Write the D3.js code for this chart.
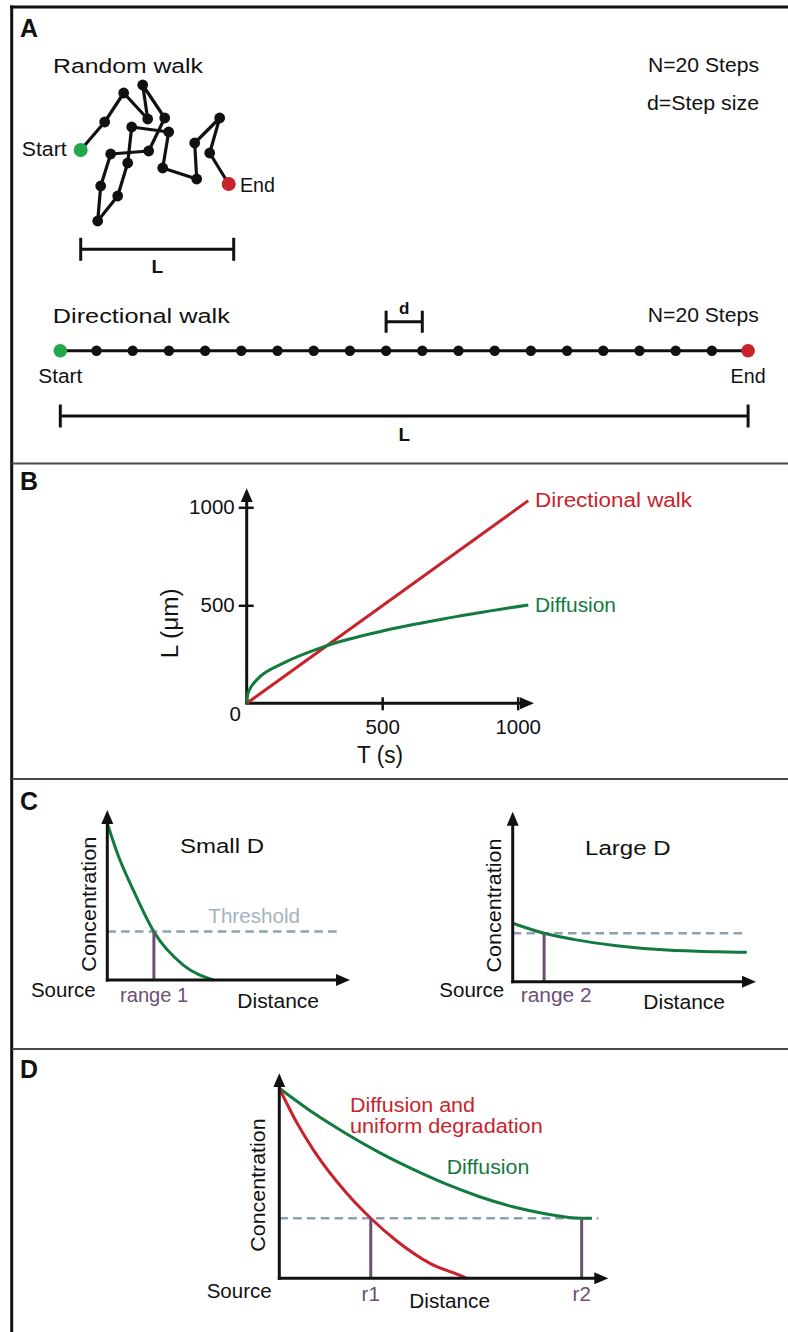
<!DOCTYPE html>
<html>
<head>
<meta charset="utf-8">
<script src="https://cdn.jsdelivr.net/npm/d3@7"></script>
<style>
  html, body { margin: 0; padding: 0; background: #fff; }
  svg { display: block; }
  text { font-family: "Liberation Sans", Arial, Helvetica, sans-serif; }
</style>
</head>
<body>
<svg id="fig" width="788" height="1332"></svg>
<script>
// ---- A: random walk, positions relative to the start (x right, y up) ----
const walkX = [0, 24, 43, 67, 62, 84, 68, 30, 20, 17, 37, 47, 51, 88, 82, 116, 114, 139, 129, 148];
const walkY = [0, 28, 57, 31, 65, 32, -1, -4, -36, -71, -46, -13, 23, 18, -18, -29, 7, 32, -3, -34];
const walkSpan = [0, 153];
// ---- A: directional walk, one position per step ----
const directionalSteps = [0, 1, 2, 3, 4, 5, 6, 7, 8, 9, 10, 11, 12, 13, 14, 15, 16, 17, 18, 19];
const stepMarked = [9, 10];

// ---- B: L vs T ----
const timeTicks = [500, 1000];
const lengthTicks = [500, 1000];
const directionalT = [0, 1039];
const directionalL = [0, 1034];
const diffusionT = [0, 3, 12, 25, 49, 135, 283, 505, 752, 1039];
const diffusionL = [0, 40, 74, 101, 136, 205, 288, 370, 437, 502];

// ---- C: concentration profiles (arbitrary units 0-100) ----
const smallDDist = [0, 3.9, 10.7, 19.2, 31.3, 43.7];
const smallDConc = [92.2, 75.5, 52.9, 28.4, 8.8, 0];
const largeDDist = [0, 12.9, 24.9, 42.7, 63.3, 83.8, 96.2];
const largeDConc = [34.4, 28.5, 24.9, 21.2, 18.6, 17.6, 17.3];
const thresholdC = 28.5;
const range1 = 19.2;
const range2 = 12.9;

// ---- D: diffusion vs diffusion + degradation ----
const diffDist = [0, 10.3, 20.5, 30.6, 40.7, 50.8, 60.9, 71, 81.2, 91.9, 95];
const diffConc = [92.7, 80.7, 70.4, 61.2, 53.1, 45.9, 39.8, 34.9, 31.4, 29.3, 29.3];
const degrDist = [0, 5.3, 10.3, 20.5, 27.8, 35.7, 45.8, 55.9, 57];
const degrConc = [92.7, 76, 62.8, 41.5, 29.3, 18.2, 7.3, 0.8, 0];
const thresholdD = 29.3;
const r1 = 27.8;
const r2 = 91.9;

const RED = '#c8232c';
const GREEN = '#127a3e';
const GREEN_DOT = '#1fa84c';
const GRAY = '#8fa1ae';
const GRAY_TEXT = '#a3b3bf';
const PURPLE = '#6c4f73';
const INK = '#111';
const FS = 20.5;

const svg = d3.select('#fig');

svg.append('defs').append('marker')
  .attr('id', 'arrow')
  .attr('viewBox', '0 0 14 12')
  .attr('refX', 4).attr('refY', 6)
  .attr('markerWidth', 14).attr('markerHeight', 12)
  .attr('markerUnits', 'userSpaceOnUse')
  .attr('orient', 'auto')
  .append('path').attr('d', 'M0,0 L14,6 L0,12 Z').attr('fill', INK);

function label(g, txt, x, y, o = {}) {
  const t = g.append('text')
    .attr('x', x).attr('y', y)
    .attr('font-size', o.size || FS)
    .attr('font-weight', o.weight || 'normal')
    .attr('fill', o.fill || INK)
    .attr('text-anchor', o.anchor || 'start')
    .text(txt);
  if (o.width) t.attr('textLength', o.width).attr('lengthAdjust', 'spacingAndGlyphs');
  if (o.rotate) t.attr('transform', `rotate(${o.rotate},${x},${y})`);
  return t;
}

function axisArrow(g, x1, y1, x2, y2) {
  // line stops short of the tip, the marker finishes it
  const len = Math.hypot(x2 - x1, y2 - y1);
  const k = (len - 10) / len;
  g.append('line')
    .attr('x1', x1).attr('y1', y1)
    .attr('x2', x1 + (x2 - x1) * k).attr('y2', y1 + (y2 - y1) * k)
    .attr('stroke', INK).attr('stroke-width', 3)
    .attr('marker-end', 'url(#arrow)');
}

// ---- frame ----
svg.append('line').attr('x1', 10).attr('x2', 788).attr('y1', 7).attr('y2', 7)
  .attr('stroke', INK).attr('stroke-width', 3);
svg.append('line').attr('x1', 11.7).attr('x2', 11.7).attr('y1', 5.5).attr('y2', 1332)
  .attr('stroke', INK).attr('stroke-width', 3);
[463.5, 779, 1049].forEach(y => {
  svg.append('line').attr('x1', 12).attr('x2', 788).attr('y1', y).attr('y2', y)
    .attr('stroke', '#4a4a4a').attr('stroke-width', 2);
});
label(svg, 'A', 20, 37, { size: 25, weight: 'bold', width: 18 });
label(svg, 'B', 20, 490, { size: 25, weight: 'bold', width: 18 });
label(svg, 'C', 20, 810, { size: 25, weight: 'bold', width: 18 });
label(svg, 'D', 20, 1078, { size: 25, weight: 'bold', width: 18 });

// ================= A =================
const gA = svg.append('g');
const wx = d3.scaleLinear().domain([0, 150]).range([80.7, 230.7]);
const wy = d3.scaleLinear().domain([-75, 75]).range([225, 75]);
const walkIdx = walkX.map((d, i) => i);

label(gA, 'Random walk', 53, 73, { width: 150 });
label(gA, 'N=20 Steps', 759, 72, { anchor: 'end', width: 111 });
label(gA, 'd=Step size', 759, 110, { anchor: 'end', width: 112 });

gA.append('path')
  .datum(walkIdx)
  .attr('d', d3.line().x(i => wx(walkX[i])).y(i => wy(walkY[i])))
  .attr('fill', 'none').attr('stroke', INK).attr('stroke-width', 3.2)
  .attr('stroke-linejoin', 'round');
gA.selectAll('.wdot')
  .data(walkIdx.slice(1, -1))
  .enter().append('circle')
  .attr('class', 'wdot')
  .attr('cx', i => wx(walkX[i])).attr('cy', i => wy(walkY[i]))
  .attr('r', 5.4).attr('fill', INK);
gA.append('circle').attr('cx', wx(walkX[0])).attr('cy', wy(walkY[0]))
  .attr('r', 7).attr('fill', GREEN_DOT);
gA.append('circle').attr('cx', wx(walkX[walkX.length - 1])).attr('cy', wy(walkY[walkY.length - 1]))
  .attr('r', 7).attr('fill', RED);
label(gA, 'Start', 21.7, 156, { width: 45 });
label(gA, 'End', 240, 192, { width: 35 });

// span bracket
function bracket(g, x1, x2, y, h) {
  g.append('line').attr('x1', x1).attr('x2', x2).attr('y1', y).attr('y2', y)
    .attr('stroke', INK).attr('stroke-width', 3);
  [x1, x2].forEach(x => g.append('line').attr('x1', x).attr('x2', x)
    .attr('y1', y - h).attr('y2', y + h).attr('stroke', INK).attr('stroke-width', 3));
}
bracket(gA, wx(walkSpan[0]), wx(walkSpan[1]), 249.3, 11.5);
label(gA, 'L', (wx(walkSpan[0]) + wx(walkSpan[1])) / 2, 273, { anchor: 'middle', weight: 'bold', size: 19 });

// directional walk
const dx = d3.scaleLinear().domain([0, 19]).range([60.3, 748.1]);
const dirY = 350.7;
label(gA, 'Directional walk', 52.8, 322.7, { width: 177 });
label(gA, 'N=20 Steps', 758.8, 322, { anchor: 'end', width: 111 });
gA.append('path')
  .datum(directionalSteps)
  .attr('d', d3.line().x(d => dx(d)).y(dirY))
  .attr('stroke', INK).attr('stroke-width', 3);
gA.selectAll('.ddot')
  .data(directionalSteps.slice(1, -1))
  .enter().append('circle')
  .attr('class', 'ddot')
  .attr('cx', d => dx(d)).attr('cy', dirY)
  .attr('r', 5.2).attr('fill', INK);
gA.append('circle').attr('cx', dx(0)).attr('cy', dirY).attr('r', 6.8).attr('fill', GREEN_DOT);
gA.append('circle').attr('cx', dx(19)).attr('cy', dirY).attr('r', 6.8).attr('fill', RED);
label(gA, 'Start', dx(0), 383, { anchor: 'middle', width: 44 });
label(gA, 'End', dx(19), 383, { anchor: 'middle', width: 35 });

bracket(gA, dx(stepMarked[0]), dx(stepMarked[1]), 321.7, 11);
label(gA, 'd', (dx(stepMarked[0]) + dx(stepMarked[1])) / 2, 314, { anchor: 'middle', weight: 'bold', size: 17 });

bracket(gA, dx(0), dx(19), 416, 11.5);
label(gA, 'L', (dx(0) + dx(19)) / 2, 441, { anchor: 'middle', weight: 'bold', size: 19 });

// ================= B =================
const gB = svg.append('g');
const bx = d3.scaleLinear().domain([0, 1000]).range([246.7, 517.7]);
const by = d3.scaleLinear().domain([0, 1000]).range([703.3, 507.3]);

gB.append('g')
  .attr('transform', `translate(${bx(0)},0)`)
  .call(d3.axisLeft(by).tickValues(lengthTicks).tickFormat(d3.format('d')).tickSize(8).tickPadding(4))
  .call(g => g.select('.domain').remove())
  .call(g => g.selectAll('.tick line').attr('x1', 7).attr('stroke', INK).attr('stroke-width', 2.5))
  .call(g => g.selectAll('.tick text').attr('font-size', FS).attr('fill', INK)
    .attr('font-family', '"Liberation Sans", Arial, sans-serif'));

gB.append('g')
  .attr('transform', `translate(0,${by(0)})`)
  .call(d3.axisBottom(bx).tickValues(timeTicks).tickFormat(d3.format('d')).tickSize(7).tickPadding(9))
  .call(g => g.select('.domain').remove())
  .call(g => g.selectAll('.tick line').attr('y1', -6).attr('stroke', INK).attr('stroke-width', 2.5))
  .call(g => g.selectAll('.tick text').attr('font-size', FS).attr('fill', INK)
    .attr('font-family', '"Liberation Sans", Arial, sans-serif'));

label(gB, '0', bx(0) - 11.5, by(0) + 18, { anchor: 'middle' });

axisArrow(gB, bx(0), by(0), bx(0), by(1097));
axisArrow(gB, bx(0) - 1.5, by(0), bx(1060), by(0));

gB.append('path')
  .datum(directionalT.map((t, i) => [t, directionalL[i]]))
  .attr('d', d3.line().x(d => bx(d[0])).y(d => by(d[1])))
  .attr('fill', 'none').attr('stroke', RED).attr('stroke-width', 3);
gB.append('path')
  .datum(diffusionT.map((t, i) => [t, diffusionL[i]]))
  .attr('d', d3.line().x(d => bx(d[0])).y(d => by(d[1])).curve(d3.curveMonotoneX))
  .attr('fill', 'none').attr('stroke', GREEN).attr('stroke-width', 3);

label(gB, 'Directional walk', 535, 507, { fill: RED, width: 157 });
label(gB, 'Diffusion', 535, 612, { fill: GREEN, width: 81 });
label(gB, 'T (s)', 380, 763, { anchor: 'middle', size: 23, width: 46 });
label(gB, 'L (\u03bcm)', 178.5, 623.3, { anchor: 'middle', size: 23, width: 70, rotate: -90 });

// ================= C & D =================
function concChart(cfg) {
  const g = svg.append('g');
  const x = d3.scaleLinear().domain([0, 100]).range(cfg.xRange);
  const y = d3.scaleLinear().domain([0, 100]).range(cfg.yRange);
  const line = d3.line().x(d => x(d[0])).y(d => y(d[1])).curve(d3.curveMonotoneX);

  // threshold
  g.append('line')
    .attr('x1', x(0)).attr('x2', x(cfg.thresholdEnd))
    .attr('y1', y(cfg.threshold)).attr('y2', y(cfg.threshold))
    .attr('stroke', GRAY).attr('stroke-width', 2.6).attr('stroke-dasharray', '8.6,5.2');

  cfg.series.forEach(s => {
    g.append('path')
      .datum(s.dist.map((d, i) => [d, s.conc[i]]))
      .attr('d', line)
      .attr('fill', 'none').attr('stroke', s.color).attr('stroke-width', 3);
  });

  cfg.ranges.forEach(r => {
    g.append('line')
      .attr('x1', x(r.at)).attr('x2', x(r.at))
      .attr('y1', y(cfg.threshold)).attr('y2', y(0))
      .attr('stroke', PURPLE).attr('stroke-width', 3);
  });

  axisArrow(g, x(0), y(0) + 1.5, x(0), y(100));
  axisArrow(g, x(0) - 1.5, y(0), x(100), y(0));

  cfg.labels.forEach(l => label(g, l.text, l.x, l.y, l.opt || {}));
  return g;
}

concChart({
  xRange: [107.3, 350], yRange: [980, 810],
  threshold: thresholdC, thresholdEnd: 95.9,
  series: [{ dist: smallDDist, conc: smallDConc, color: GREEN }],
  ranges: [{ at: range1 }],
  labels: [
    { text: 'Small D', x: 180, y: 853.3, opt: { width: 84 } },
    { text: 'Threshold', x: 208.3, y: 922.7, opt: { width: 91.7, fill: GRAY_TEXT } },
    { text: 'Concentration', x: 96.5, y: 904.2, opt: { anchor: 'middle', rotate: -90, size: 21, width: 135 } },
    { text: 'Source', x: 31, y: 996.7, opt: { width: 64.7 } },
    { text: 'range 1', x: 120, y: 1001.7, opt: { width: 68.3, fill: PURPLE } },
    { text: 'Distance', x: 237.3, y: 1007.7, opt: { width: 81.7 } }
  ]
});

concChart({
  xRange: [512.7, 756], yRange: [981.7, 811.7],
  threshold: thresholdC, thresholdEnd: 96.2,
  series: [{ dist: largeDDist, conc: largeDConc, color: GREEN }],
  ranges: [{ at: range2 }],
  labels: [
    { text: 'Large D', x: 585, y: 855, opt: { width: 85.7 } },
    { text: 'Concentration', x: 500.5, y: 905.5, opt: { anchor: 'middle', rotate: -90, size: 21, width: 134 } },
    { text: 'Source', x: 439.3, y: 997.3, opt: { width: 65 } },
    { text: 'range 2', x: 520.7, y: 1001.7, opt: { width: 71, fill: PURPLE } },
    { text: 'Distance', x: 643.3, y: 1009.3, opt: { width: 81.7 } }
  ]
});

concChart({
  xRange: [279.3, 608.3], yRange: [1278.3, 1073.3],
  threshold: thresholdD, thresholdEnd: 97,
  series: [
    { dist: diffDist, conc: diffConc, color: GREEN },
    { dist: degrDist, conc: degrConc, color: RED }
  ],
  ranges: [{ at: r1 }, { at: r2 }],
  labels: [
    { text: 'Diffusion and', x: 350, y: 1111.7, opt: { width: 125, fill: RED } },
    { text: 'uniform degradation', x: 350, y: 1133, opt: { width: 192.7, fill: RED } },
    { text: 'Diffusion', x: 446.7, y: 1174, opt: { width: 82.6, fill: GREEN } },
    { text: 'Concentration', x: 265, y: 1185, opt: { anchor: 'middle', rotate: -90, size: 21, width: 133.3 } },
    { text: 'Source', x: 206.7, y: 1298.3, opt: { width: 65 } },
    { text: 'r1', x: 370.7, y: 1300.7, opt: { anchor: 'middle', fill: PURPLE } },
    { text: 'r2', x: 581.7, y: 1300.7, opt: { anchor: 'middle', fill: PURPLE } },
    { text: 'Distance', x: 409.3, y: 1308.3, opt: { width: 80.7 } }
  ]
});
</script>
</body>
</html>
